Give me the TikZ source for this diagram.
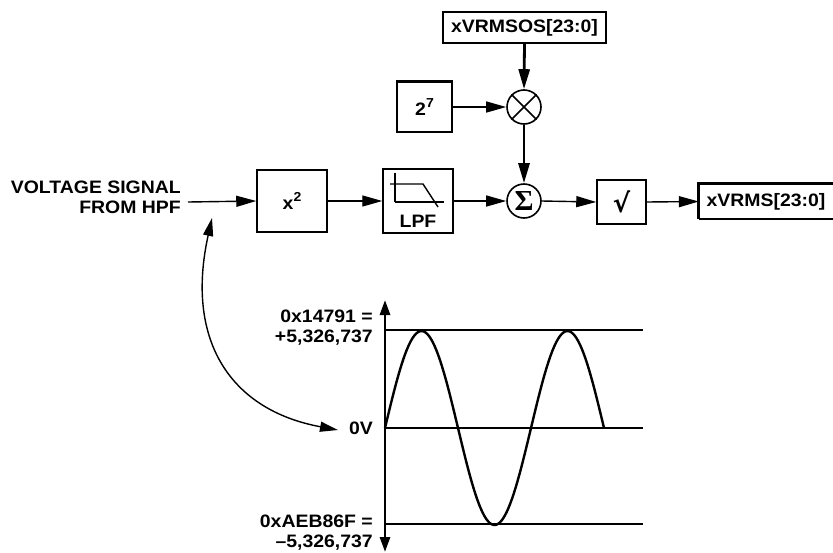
\documentclass[tikz,border=0pt]{standalone}
\usepackage{fontspec}
\setmainfont[FakeStretch=1.08]{Liberation Sans}
\newfontfamily\dejavu{DejaVu Sans}
\newfontfamily\serifb{Liberation Serif}
\usetikzlibrary{arrows.meta}
\newcommand{\supr}[1]{\raisebox{0.42em}{\fontsize{13}{13}\selectfont #1}}
\begin{document}
\begin{tikzpicture}[x=1pt,y=-1pt,
  lbl/.style={font=\fontsize{18}{20}\selectfont\bfseries, inner sep=0pt},
  blk/.style={draw, line width=1.5pt, inner sep=0pt, font=\fontsize{18}{20}\selectfont\bfseries},
  circ/.style={draw, circle, line width=1.6pt, minimum size=34pt, inner sep=0pt},
  ln/.style={line width=1.4pt},
  thk/.style={line width=2.8pt},
  tip/.style={-{Triangle[length=20pt,width=11pt]}},
  tips/.style={{Triangle[length=18pt,width=10pt]}-{Triangle[length=18pt,width=10pt]}},
  axtips/.style={{Triangle[length=15pt,width=10pt]}-{Triangle[length=15pt,width=10pt]}}]
\useasboundingbox (0,0) rectangle (833,552);
\fill[white] (0,0) rectangle (833,552);

% input label
\node[lbl, align=right, anchor=east] (vs) at (181,197) {VOLTAGE SIGNAL\\FROM HPF};
\coordinate (inS) at (188,202);

% blocks
\node[blk, minimum width=70pt, minimum height=62pt] (sq) at (292,201) {x\supr{2}};
\node[blk, minimum width=70pt, minimum height=64pt] (lpf) at (418,201) {};
\node[lbl] (lpft) at (418,221) {LPF};
\node[blk, minimum width=55pt, minimum height=50pt] (p27) at (424.5,107) {2\supr{7}};
\draw[thk] (p27.north west) -- (p27.north east);
\node[blk, minimum width=163pt, minimum height=31pt] (os) at (524.5,27.5) {xVRMSOS[23:0]};
\node[blk, minimum width=49pt, minimum height=44pt] (sqrt) at (621.5,202) {\dejavu\bfseries\fontsize{26}{26}\selectfont √};
\node[lbl, minimum width=134pt, minimum height=35pt] (out) at (766,201.5) {xVRMS[23:0]};
\draw[line width=1.5pt] (out.south west) -- (out.south east);
\draw[thk] (out.north east) -- (out.north west) -- (out.south west);

% LPF icon
\coordinate (l1) at (395,173);
\coordinate (l2) at (395,202);
\coordinate (l3) at (444,202);
\coordinate (l4) at (390,184);
\coordinate (l5) at (423,184);
\coordinate (l6) at (438,207);
\draw[line width=2pt] (l1) -- (l2);
\draw[line width=2.6pt] (l2) -- (l3);
\draw[ln] (l4) -- (l5) -- (l6);

% circles
\node[circ] (mul) at (524,107) {};
\draw[line width=1.6pt] (mul.north west) -- (mul.south east) (mul.north east) -- (mul.south west);
\node[circ, font=\serifb\bfseries\fontsize{29}{29}\selectfont] (sum) at (524,201) {Σ};

% connectors
\draw[ln, tip] (inS) -- (sq.west);
\draw[ln, tip] (sq.east) -- (lpf.west);
\draw[ln, tip] (lpf.east) -- (sum.west);
\draw[ln, tip] (sum.east) -- (sqrt.west);
\draw[ln, tip] (sqrt.east) -- (out.west);
\draw[ln, tip] (p27.east) -- (mul.west);
\draw[thk, tip] (os.south) -- (mul.north);
\draw[thk, tip] (mul.south) -- (sum.north);

% waveform
\coordinate (axT) at (385,300);
\coordinate (axB) at (385,552);
\coordinate (pkL) at (385,330);
\coordinate (pkR) at (643,330);
\coordinate (zL) at (385,428);
\coordinate (zR) at (643,428);
\coordinate (trL) at (385,524);
\coordinate (trR) at (643,524);
\draw[ln] (pkL) -- (pkR);
\draw[ln] (zL) -- (zR);
\draw[ln] (trL) -- (trR);
\draw[line width=2.8pt, axtips] (axB) -- (axT);
\draw[line width=2.4pt, line join=round] plot[domain=0:540, samples=120] ({385+0.40556*\x}, {428-97*sin(\x)});

\node[lbl, align=right, anchor=east] (pos) at (373,327.5) {0x14791 =\\+5,326,737};
\node[lbl, anchor=east] (zv) at (373,428) {0V};
\node[lbl, align=right, anchor=east] (neg) at (373,533) {0xAEB86F =\\–5,326,737};

% curved double arrow
\coordinate (cA) at (212,218);
\coordinate (cB) at (338,430);
\draw[ln, tips] (cA) .. controls (185,340) and (230,410) .. (cB);
\end{tikzpicture}
\end{document}
